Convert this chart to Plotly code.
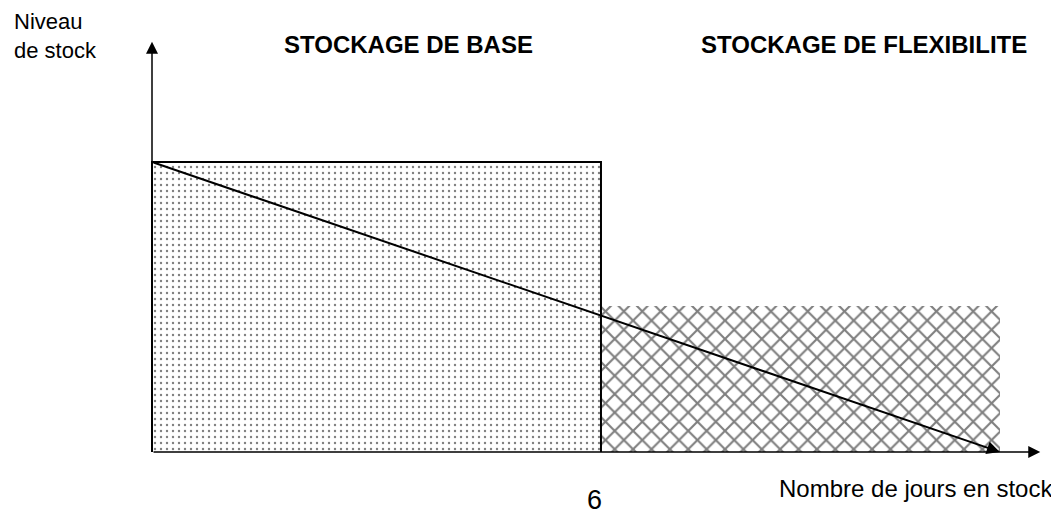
import plotly.graph_objects as go

# Data (days on x, stock level on y)
block_names = ["STOCKAGE DE BASE", "STOCKAGE DE FLEXIBILITE"]
block_start = [0, 6]
block_end = [6, 11.33]
block_height = [2.0, 1.01]
decline_x = [0, 11.33]
decline_y = [2.0, 0]
x_axis_end = 11.87
y_axis_end = 2.83
tick_value = 6
tick_label = "6"
x_title = "Nombre de jours en stock"
y_title = "Niveau<br>de stock"

# page has an 8px body margin -> figure placed at (8, 8)
px_per_x = 74.83
px_per_y = 145.0
ox, oy = 144, 444
W, H = 1051, 508
xr = [-ox / px_per_x, (W - ox) / px_per_x]
yr = [-(H - oy) / px_per_y, oy / px_per_y]

fig = go.Figure()

# base block (dots)
fig.add_trace(go.Bar(
    x=[(block_start[0] + block_end[0]) / 2], y=[block_height[0]],
    width=[block_end[0] - block_start[0]],
    marker=dict(color="white", line=dict(color="black", width=0),
                pattern=dict(shape=".", fgcolor="black", bgcolor="white",
                             size=6, solidity=0.12)),
    showlegend=False, hoverinfo="skip"))
# flexibility block (crosshatch)
fig.add_trace(go.Bar(
    x=[(block_start[1] + block_end[1]) / 2], y=[block_height[1]],
    width=[block_end[1] - block_start[1]],
    marker=dict(color="white", line=dict(color="white", width=0),
                pattern=dict(shape="x", fgcolor="black", bgcolor="white",
                             size=13, solidity=0.3)),
    showlegend=False, hoverinfo="skip"))
# base block outline
fig.add_trace(go.Scatter(
    x=[block_start[0], block_start[0], block_end[0], block_end[0]],
    y=[0, block_height[0], block_height[0], 0],
    mode="lines", line=dict(color="black", width=2),
    showlegend=False, hoverinfo="skip"))

annotations = []
# axes arrows
annotations.append(dict(x=0, y=y_axis_end, ax=0, ay=0, xref="x", yref="y",
                        axref="x", ayref="y", showarrow=True, arrowhead=2,
                        arrowsize=1.6, arrowwidth=1.5, arrowcolor="black", text=""))
annotations.append(dict(x=x_axis_end, y=0, ax=0, ay=0, xref="x", yref="y",
                        axref="x", ayref="y", showarrow=True, arrowhead=2,
                        arrowsize=1.6, arrowwidth=1.5, arrowcolor="black", text=""))
# declining line
annotations.append(dict(x=decline_x[1], y=decline_y[1], ax=decline_x[0], ay=decline_y[0],
                        xref="x", yref="y", axref="x", ayref="y", showarrow=True,
                        arrowhead=2, arrowsize=1.3, arrowwidth=2, arrowcolor="black", text=""))

font = "Liberation Sans, Arial, sans-serif"
# block titles
annotations.append(dict(x=3.43, y=2.81, xref="x", yref="y",
                        text="<b>%s</b>" % block_names[0], showarrow=False,
                        font=dict(family=font, size=24, color="black")))
annotations.append(dict(x=9.515, y=2.81, xref="x", yref="y",
                        text="<b>%s</b>" % block_names[1], showarrow=False,
                        font=dict(family=font, size=24, color="black")))
# tick label
annotations.append(dict(x=tick_value - 0.08, y=-0.33, xref="x", yref="y", text=tick_label,
                        showarrow=False, font=dict(family=font, size=27, color="black")))
# x title
annotations.append(dict(x=12.07, y=-0.255, xref="x", yref="y", text=x_title, xanchor="right",
                        showarrow=False, font=dict(family=font, size=24, color="black")))
# y title
annotations.append(dict(x=-1.87, y=1, xref="x", yref="paper", text=y_title, xanchor="left",
                        yanchor="top", yshift=1, align="left", showarrow=False,
                        font=dict(family=font, size=22, color="black")))

fig.update_layout(
    width=W, height=H, margin=dict(l=0, r=0, t=0, b=0),
    plot_bgcolor="white", paper_bgcolor="white",
    xaxis=dict(range=xr, visible=False, fixedrange=True),
    yaxis=dict(range=yr, visible=False, fixedrange=True),
    bargap=0, annotations=annotations, showlegend=False)

fig.write_html("out.html")
